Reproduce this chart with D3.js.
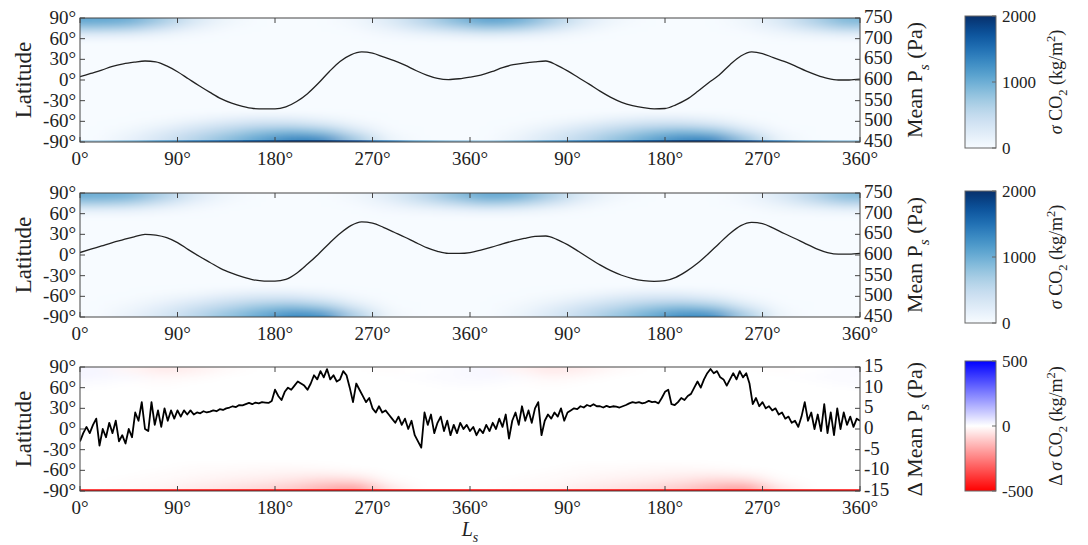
<!DOCTYPE html>
<meta charset="utf-8">
<style>
  body { margin: 0; background: #fff; }
  text { font-family: "Liberation Serif", "Times New Roman", serif; fill: #222; }
</style>
<body>
<script src="https://cdn.jsdelivr.net/npm/d3@7/dist/d3.min.js"></script>
<script>
var width = 1088, height = 545;

// common grid: two martian years, 30 deg Ls cells, 10 deg latitude bands near the poles
var cellLs = d3.range(15, 720, 30);
var latRows = [85, 75, 65, -55, -65, -75, -85];
var tickLs = [0, 90, 180, 270, 360, 450, 540, 630, 720];
var tickLsLabels = ["0°", "90°", "180°", "270°", "360°", "90°", "180°", "270°", "360°"];
var latTicks = [90, 60, 30, 0, -30, -60, -90];

// panel 1 : sigma CO2 (kg/m2)
var capA = [
  [1050,1000,700,300,80,0,0,0,60,250,550,850, 1100,1000,650,250,60,0,0,0,80,280,600,900],
  [700,650,400,150,30,0,0,0,30,150,350,550, 720,640,380,130,20,0,0,0,40,170,380,600],
  [200,180,100,30,0,0,0,0,0,40,100,150, 210,170,90,20,0,0,0,0,0,50,110,170],
  [0,0,20,60,140,200,180,100,20,0,0,0, 0,0,20,50,130,190,180,110,20,0,0,0],
  [0,20,100,230,380,480,500,360,120,0,0,0, 0,20,90,220,360,470,490,370,130,0,0,0],
  [0,70,230,430,620,820,930,800,360,30,0,0, 0,60,220,410,600,800,920,820,380,40,0,0],
  [0,140,340,580,830,1080,1330,1300,700,100,0,0, 0,120,320,550,800,1050,1300,1320,750,110,0,0]
];
var poleA = [700,900,1200,1450,1650,1850,2000,2000,1800,1400,1000,800, 700,900,1200,1450,1650,1850,2000,2000,1800,1400,1000,800];

// panel 2
var capB = [
  [1000,950,650,280,70,0,0,0,60,240,520,820, 1050,980,640,240,60,0,0,0,70,260,560,860],
  [680,620,380,140,30,0,0,0,30,140,330,520, 700,620,370,120,20,0,0,0,40,160,360,570],
  [190,170,90,30,0,0,0,0,0,40,90,140, 200,160,80,20,0,0,0,0,0,50,100,160],
  [0,0,20,50,120,180,170,90,10,0,0,0, 0,0,20,50,120,180,170,90,10,0,0,0],
  [0,20,90,200,340,440,460,320,90,0,0,0, 0,20,80,190,330,430,450,330,100,0,0,0],
  [0,60,200,390,570,760,860,720,300,20,0,0, 0,50,190,370,550,740,850,740,320,30,0,0],
  [0,120,300,530,770,1000,1250,1200,600,60,0,0, 0,100,280,500,740,980,1230,1220,640,70,0,0]
];
var poleB = [0,140,330,560,800,1030,1280,1230,630,70,0,0, 0,120,300,530,770,1010,1260,1250,670,80,0,0];

// panel 3 : difference
var capD = [
  [20,-15,-40,-30,-10,0,0,0,0,-5,0,10, 15,-20,-45,-30,-10,0,0,0,0,-5,0,10],
  [15,10,-15,-10,0,0,0,0,0,0,5,10, 15,5,-20,-10,0,0,0,0,0,0,5,10],
  [5,0,-5,0,0,0,0,0,0,0,0,5, 5,0,-5,0,0,0,0,0,0,0,0,5],
  [0,0,0,-5,-5,-10,-10,-5,0,0,0,0, 0,0,0,-5,-5,-10,-10,-5,0,0,0,0],
  [0,0,-5,-10,-15,-20,-25,-30,-20,0,0,0, 0,0,-5,-10,-15,-20,-25,-30,-20,0,0,0],
  [0,-5,-10,-20,-30,-40,-55,-80,-80,-10,0,0, 0,-5,-10,-20,-30,-40,-55,-80,-80,-10,0,0],
  [0,-10,-20,-40,-55,-75,-100,-150,-190,-50,0,0, 0,-10,-20,-40,-55,-75,-100,-150,-190,-50,0,0]
];
var poleD = [-500,-500,-500,-500,-500,-500,-500,-500,-500,-500,-500,-500, -500,-500,-500,-500,-500,-500,-500,-500,-500,-500,-500,-500];

// mean surface pressure (Pa), every 10 deg Ls
var psLs = d3.range(0, 721, 10);
var psA = [608,616,624,633,639,643,646,644,634,620,603,586,570,555,544,536,531,530,530,535,548,567,592,620,645,661,668,665,656,647,636,623,612,604,601,603,
  607,612,620,630,637,641,644,646,636,622,606,590,573,558,546,538,533,530,531,540,553,572,593,612,637,658,668,664,654,645,634,622,612,604,600,600,602];
var psB = [606,614,622,630,637,644,650,648,642,630,613,597,582,567,556,547,540,537,537,541,556,578,602,628,652,671,680,677,667,655,643,630,618,609,604,604,
  606,612,619,627,634,640,645,646,638,625,609,592,576,562,551,543,538,536,538,546,561,580,603,628,652,671,679,676,665,652,640,627,615,606,602,602,604];

// difference of mean surface pressure (Pa), every 3 deg Ls
var dpsLs = d3.range(0, 721, 3);
var dps = [
  -3,-1,0.5,-1,1,2.5,-4,0,-2,1.5,-1,2,-3,-1.5,-3.5,0,-2,4,2,6.5,
  0,-0.5,6.5,1,4.5,0.5,5,2,4.5,2.5,4.5,3,4.5,3.5,4.5,3.5,4,3.8,4.3,4,
  4.2,4.5,4.3,4.8,4.6,5,5.2,5.5,5.3,5.8,5.7,6,6.3,6,6.4,6.2,6.5,6.4,6.3,6.8,
  9.5,8,7,9,10,9.5,10.5,11.5,11,10.5,9.5,11,13,12,14,12.5,14.5,12,13,11.5,
  12,14,13,10,6.5,11,9.5,8,6.5,7.5,5,4,5.5,4,4.5,3.5,2.5,1.5,3,1,
  2.5,0,2,-1.5,-3,-4.5,4,1,3.5,-1,1.5,3,-0.5,2,-1.5,1,-1,1.5,0,1,
  -0.5,0.5,-1.5,0,-1,1,-0.5,1.5,0,2.5,0.5,3.5,-2.3,2,4,1,5.5,2,4.5,1.5,
  5,6.5,-1.5,2,3.5,2.5,4,3,5,2,4,4.5,5,4.8,5.5,5.2,5.8,5.5,6,5.5,
  5.5,5.2,5.6,5.3,5.5,5.4,5.2,5.5,5.8,6.2,6.5,6.3,6.5,6.2,6.4,6.8,6.5,6.6,6.2,7.5,
  9,9.5,6,5.8,6.5,7.5,7,8,8.5,10,11.5,10,12,13.5,14.5,13.5,14,12.5,12,10.5,
  12,13.5,12,14,12.5,13.5,11,6,7.5,5.5,6.5,5,5.5,4.5,5,3.5,4,2.5,3,1.5,
  2,0.5,3,6.5,2,4,0,3.5,-0.5,6,-1,4,-1.5,5,0,4,1,3,0.5,2.5,2
];

var blues = d3.scaleSequential(d3.interpolateBlues).domain([0, 2000]).clamp(true);
var bwr = d3.scaleLinear().domain([-500, 0, 500]).range(["#ff0000", "#ffffff", "#0000ff"]).clamp(true);

var svg = d3.select("body").append("svg")
  .attr("width", width)
  .attr("height", height);

var defs = svg.append("defs");
defs.append("filter").attr("id", "blur")
  .attr("x", "-10%").attr("y", "-30%").attr("width", "120%").attr("height", "160%")
  .append("feGaussianBlur").attr("stdDeviation", "14 3");
defs.append("filter").attr("id", "hblur")
  .attr("x", "-10%").attr("y", "-50%").attr("width", "120%").attr("height", "200%")
  .append("feGaussianBlur").attr("stdDeviation", "10 0.01");

var x = d3.scaleLinear().domain([0, 720]).range([80, 860]);

function rich(sel, parts, size) {
  var cur = 0;
  parts.forEach(function(p) {
    var shift = p.sub ? size * 0.3 : (p.sup ? -size * 0.4 : 0);
    var ts = sel.append("tspan").text(p.t);
    if (shift != cur) ts.attr("dy", shift - cur);
    if (shift) ts.attr("font-size", size * 0.7);
    if (p.it) ts.attr("font-style", "italic");
    cur = shift;
  });
}

function panel(i, top, rows, pole, color, psData, psXs, psDomain, psTicks, rightParts, cbTicks, cbTop, cbH, lineW) {
  var h = 124;
  var y = d3.scaleLinear().domain([-90, 90]).range([top + h, top]);
  var yR = d3.scaleLinear().domain(psDomain).range([top + h, top]);
  var g = svg.append("g");

  defs.append("clipPath").attr("id", "clip" + i)
    .append("rect").attr("x", 80).attr("y", top).attr("width", 780).attr("height", h);

  var plot = g.append("g").attr("clip-path", "url(#clip" + i + ")");
  var heat = plot.append("g").attr("filter", "url(#blur)");
  heat.append("rect")
    .attr("x", 30).attr("y", top - 40).attr("width", 880).attr("height", h + 80)
    .attr("fill", color(0));

  var cells = [];
  latRows.forEach(function(lat, r) {
    cellLs.forEach(function(ls, c) {
      cells.push({ls: ls, lat: lat, v: rows[r][c], c: c});
    });
  });
  var last = cellLs.length - 1;
  heat.selectAll("rect.cell").data(cells).join("rect")
    .attr("class", "cell")
    .attr("x", function(d) { return x(d.ls - 15) - (d.c == 0 ? 50 : 0); })
    .attr("width", function(d) { return x(d.ls + 15) - x(d.ls - 15) + (d.c == 0 ? 50 : 0) + (d.c == last ? 50 : 0) + 0.5; })
    .attr("y", function(d) { return y(d.lat + 5) - (d.lat == 85 ? 40 : 0); })
    .attr("height", function(d) { return y(d.lat - 5) - y(d.lat + 5) + (d.lat == 85 || d.lat == -85 ? 40 : 0) + 0.5; })
    .attr("fill", function(d) { return color(d.v); });

  plot.append("g").attr("filter", "url(#hblur)")
    .selectAll("rect").data(pole).join("rect")
    .attr("x", function(d, c) { return x(cellLs[c] - 15) - (c == 0 ? 50 : 0); })
    .attr("width", function(d, c) { return x(cellLs[c] + 15) - x(cellLs[c] - 15) + (c == 0 ? 50 : 0) + (c == last ? 50 : 0) + 0.5; })
    .attr("y", y(-87.5))
    .attr("height", y(-90) - y(-87.5) + 1)
    .attr("fill", function(d) { return color(d); });

  var line = d3.line()
    .x(function(d, k) { return x(psXs[k]); })
    .y(function(d) { return yR(d); })
    .curve(lineW > 1.5 ? d3.curveLinear : d3.curveMonotoneX);
  plot.append("path")
    .datum(psData)
    .attr("d", line)
    .attr("fill", "none")
    .attr("stroke", lineW > 1.5 ? "#000" : "#222")
    .attr("stroke-width", lineW)
    .attr("stroke-linejoin", "round");

  // frame and inward ticks
  g.append("rect").attr("x", 80).attr("y", top).attr("width", 780).attr("height", h)
    .attr("fill", "none").attr("stroke", "#444").attr("stroke-width", 1);
  var tk = g.append("g").attr("stroke", "#444").attr("stroke-width", 1);
  tickLs.forEach(function(t) {
    tk.append("line").attr("x1", x(t)).attr("x2", x(t)).attr("y1", top + h).attr("y2", top + h - 5);
    tk.append("line").attr("x1", x(t)).attr("x2", x(t)).attr("y1", top).attr("y2", top + 5);
  });
  latTicks.forEach(function(t) {
    tk.append("line").attr("x1", 80).attr("x2", 85).attr("y1", y(t)).attr("y2", y(t));
  });
  psTicks.forEach(function(t) {
    tk.append("line").attr("x1", 860).attr("x2", 855).attr("y1", yR(t)).attr("y2", yR(t));
  });

  g.selectAll("text.xl").data(tickLs).join("text")
    .attr("class", "xl")
    .attr("x", function(d) { return x(d); })
    .attr("y", top + h + 23)
    .attr("text-anchor", "middle")
    .attr("font-size", 19)
    .text(function(d, k) { return tickLsLabels[k]; });
  g.selectAll("text.yl").data(latTicks).join("text")
    .attr("class", "yl")
    .attr("x", 76)
    .attr("y", function(d) { return y(d) + 6; })
    .attr("text-anchor", "end")
    .attr("font-size", 19)
    .text(function(d) { return d + "°"; });
  g.selectAll("text.rl").data(psTicks).join("text")
    .attr("class", "rl")
    .attr("x", 864)
    .attr("y", function(d) { return yR(d) + 5; })
    .attr("font-size", 19)
    .text(function(d) { return d; });

  g.append("text")
    .attr("transform", "translate(31," + (top + h / 2) + ") rotate(-90)")
    .attr("text-anchor", "middle")
    .attr("font-size", 23)
    .text("Latitude");
  rich(g.append("text")
    .attr("transform", "translate(922," + (top + h / 2) + ") rotate(-90)")
    .attr("text-anchor", "middle")
    .attr("font-size", 22), rightParts, 22);

  // colorbar
  var cbId = "cb" + i;
  var grad = defs.append("linearGradient").attr("id", cbId)
    .attr("x1", 0).attr("y1", 1).attr("x2", 0).attr("y2", 0);
  var dom = [cbTicks[0], cbTicks[2]];
  d3.range(0, 1.0001, 0.05).forEach(function(f) {
    grad.append("stop").attr("offset", f).attr("stop-color", color(dom[0] + f * (dom[1] - dom[0])));
  });
  var cy = d3.scaleLinear().domain(dom).range([cbTop + cbH, cbTop]);
  g.append("rect").attr("x", 965).attr("y", cbTop).attr("width", 31).attr("height", cbH)
    .attr("fill", "url(#" + cbId + ")").attr("stroke", "#666").attr("stroke-width", 1);
  cbTicks.forEach(function(t) {
    g.append("line").attr("x1", 996).attr("x2", 992).attr("y1", cy(t)).attr("y2", cy(t))
      .attr("stroke", "#666");
    g.append("text").attr("x", 1002).attr("y", cy(t) + 6).attr("font-size", 17).text(t);
  });
  var cbParts = (i == 3 ? [{t: "Δ "}] : []).concat([
    {t: "σ", it: true}, {t: " CO"}, {t: "2", sub: true}, {t: " (kg/m"}, {t: "2", sup: true}, {t: ")"}
  ]);
  rich(g.append("text")
    .attr("transform", "translate(1062," + (cbTop + cbH / 2) + ") rotate(-90)")
    .attr("text-anchor", "middle")
    .attr("font-size", 18), cbParts, 18);
}

var psParts = [{t: "Mean P"}, {t: "s", sub: true, it: true}, {t: "  (Pa)"}];
panel(1, 18, capA, poleA, blues, psA, psLs, [450, 750], [750, 700, 650, 600, 550, 500, 450], psParts, [0, 1000, 2000], 16, 132, 1.3);
panel(2, 193, capB, poleB, blues, psB, psLs, [450, 750], [750, 700, 650, 600, 550, 500, 450], psParts, [0, 1000, 2000], 191, 132, 1.3);
panel(3, 367, capD, poleD, bwr, dps, dpsLs, [-15, 15], [15, 10, 5, 0, -5, -10, -15],
  [{t: "Δ Mean P"}, {t: "s", sub: true, it: true}, {t: "  (Pa)"}], [-500, 0, 500], 361, 130, 1.8);

rich(svg.append("text")
  .attr("x", 470).attr("y", 536)
  .attr("text-anchor", "middle")
  .attr("font-size", 20), [{t: "L", it: true}, {t: "s", sub: true, it: true}], 20);
</script>
</body>
